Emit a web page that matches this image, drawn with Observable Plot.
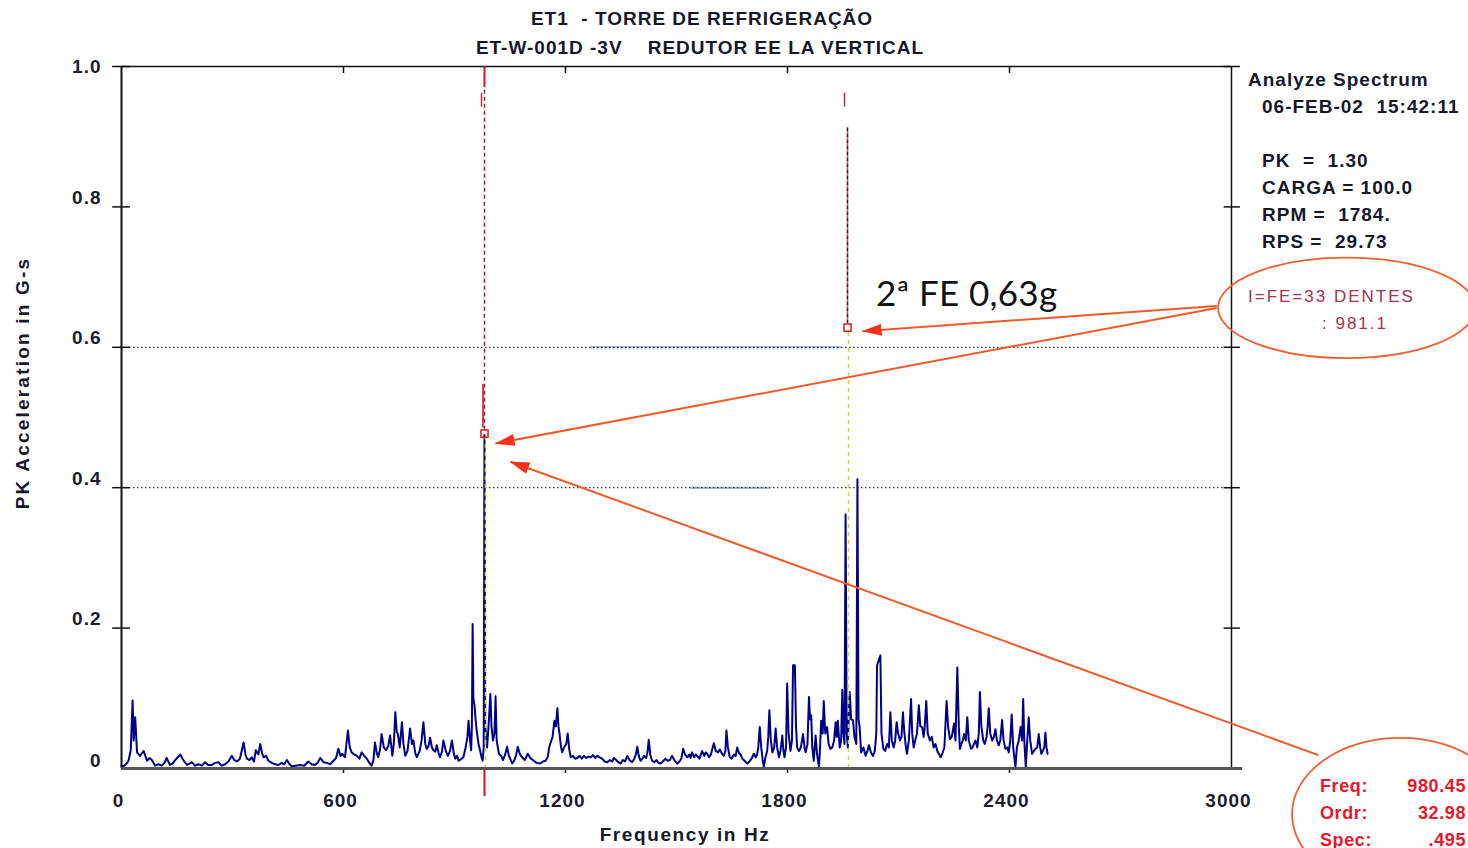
<!DOCTYPE html>
<html><head><meta charset="utf-8">
<script src="https://cdn.jsdelivr.net/npm/d3@7"></script>
<script src="https://cdn.jsdelivr.net/npm/@observablehq/plot@0.6"></script>
<style>
body{margin:0;background:#fff;}
#wrap{position:relative;width:1468px;height:848px;overflow:hidden;font-family:"Liberation Sans",Arial,sans-serif;}
#wrap svg{position:absolute;left:0;top:0;}
.t{position:absolute;white-space:pre;font-weight:bold;color:#17172a;font-size:19px;line-height:19px;letter-spacing:1px;transform:translateY(-50%);}
.c{transform:translate(-50%,-50%);}
.ax{letter-spacing:1.6px;}
.red{color:#e8182a;font-size:18px;letter-spacing:0.6px;}
.pink{color:#a3344c;font-weight:normal;font-size:17px;letter-spacing:2px;}
</style></head><body><div id="wrap"></div>
<script>
// ---- data ----
const titleLines = ["ET1  - TORRE DE REFRIGERAÇÃO", "ET-W-001D -3V    REDUTOR EE LA VERTICAL"];
const xTicks = [0, 600, 1200, 1800, 2400, 3000];
const yTicks = [0, 0.2, 0.4, 0.6, 0.8, 1.0];
const gridLevels = [0.4, 0.6];
const harmonicHz = [981.1, 1962.2];
const harmonicMarkG = [0.477, 0.628];
const panelLines = ["Analyze Spectrum", "06-FEB-02  15:42:11", "PK  =  1.30", "CARGA = 100.0", "RPM =  1784.", "RPS =  29.73"];
const cursorLabels = ["Freq:", "Ordr:", "Spec:"];
const cursorValues = ["980.45", "32.98", ".495"];
const calloutText = ["I=FE=33 DENTES", ": 981.1"];
const noteText = "2ª FE 0,63g";
// spectrum: [frequency Hz, PK acceleration G-s]
const spectrum = [
[0,.004],[5,.003],[12,.006],[19,.011],[25,.026],[30,.097],[33,.04],[37,.073],[42,.023],[50,.018],[60,.025],[69,.011],[76,.015],[82,.012],[91,.004],[100,.006],[109,.004],[116,.008],[122,.015],[131,.005],[138,.007],[145,.012],[152,.016],[159,.02],[165,.014],[171,.009],[177,.005],[184,.007],[190,.009],[199,.004],[208,.006],[217,.004],[226,.009],[235,.005],[244,.005],[253,.008],[262,.009],[271,.004],[280,.006],[289,.01],[298,.018],[305,.012],[312,.01],[320,.014],[330,.037],[335,.02],[339,.014],[346,.012],[352,.016],[358,.01],[363,.026],[370,.02],[375,.035],[380,.022],[384,.016],[391,.018],[397,.011],[406,.008],[415,.006],[424,.005],[433,.008],[440,.006],[447,.012],[453,.007],[460,.003],[470,.004],[483,.005],[494,.004],[505,.01],[514,.006],[523,.005],[530,.008],[537,.015],[546,.009],[555,.008],[564,.006],[573,.011],[580,.015],[586,.028],[592,.018],[597,.021],[604,.016],[612,.054],[617,.03],[622,.023],[629,.02],[636,.018],[643,.014],[649,.023],[656,.018],[663,.014],[670,.008],[676,.004],[681,.012],[685,.037],[690,.022],[694,.016],[699,.028],[703,.049],[709,.03],[715,.026],[721,.032],[726,.047],[732,.018],[736,.035],[740,.08],[744,.052],[747,.049],[752,.03],[758,.066],[762,.035],[767,.018],[773,.025],[780,.057],[785,.035],[789,.04],[794,.022],[798,.016],[806,.025],[811,.04],[816,.066],[821,.035],[825,.028],[830,.032],[834,.044],[839,.03],[843,.026],[848,.024],[852,.033],[857,.022],[861,.016],[866,.024],[870,.04],[876,.026],[882,.018],[888,.025],[893,.04],[898,.022],[902,.014],[907,.018],[911,.011],[917,.013],[924,.016],[930,.03],[935,.045],[938,.068],[942,.04],[945,.026],[947,.06],[949,.206],[951,.1],[954,.09],[957,.07],[960,.054],[965,.035],[969,.026],[973,.016],[976,.011],[979,.03],[981,.475],[983,.06],[986,.045],[988,.03],[992,.06],[997,.106],[1000,.06],[1004,.04],[1008,.05],[1011,.103],[1014,.04],[1020,.021],[1026,.018],[1031,.012],[1037,.02],[1042,.031],[1047,.018],[1052,.012],[1056,.007],[1062,.012],[1067,.02],[1071,.031],[1077,.02],[1083,.016],[1090,.012],[1098,.021],[1105,.015],[1114,.011],[1122,.008],[1132,.007],[1139,.01],[1146,.011],[1152,.016],[1156,.03],[1160,.037],[1165,.045],[1170,.068],[1174,.06],[1178,.086],[1181,.06],[1184,.049],[1188,.03],[1191,.023],[1196,.03],[1202,.035],[1206,.05],[1210,.028],[1214,.016],[1220,.018],[1226,.014],[1232,.015],[1238,.018],[1244,.014],[1250,.018],[1256,.015],[1262,.017],[1268,.016],[1274,.019],[1280,.015],[1286,.018],[1292,.016],[1299,.014],[1306,.01],[1313,.009],[1320,.012],[1326,.01],[1331,.015],[1337,.012],[1343,.009],[1349,.007],[1355,.012],[1361,.01],[1367,.018],[1373,.012],[1380,.009],[1386,.014],[1390,.02],[1394,.031],[1398,.018],[1403,.011],[1408,.014],[1412,.018],[1418,.015],[1422,.025],[1425,.041],[1429,.02],[1434,.011],[1440,.009],[1446,.012],[1451,.008],[1457,.007],[1463,.01],[1470,.014],[1476,.011],[1482,.012],[1488,.018],[1494,.012],[1502,.007],[1508,.01],[1513,.014],[1518,.028],[1523,.02],[1529,.016],[1535,.02],[1538,.015],[1542,.023],[1548,.016],[1552,.02],[1556,.018],[1562,.014],[1566,.02],[1569,.025],[1575,.018],[1579,.023],[1583,.021],[1588,.016],[1593,.02],[1597,.028],[1601,.036],[1606,.025],[1612,.023],[1617,.027],[1623,.021],[1628,.018],[1632,.025],[1635,.054],[1639,.03],[1644,.016],[1649,.014],[1655,.02],[1660,.018],[1664,.03],[1669,.022],[1673,.02],[1678,.014],[1684,.011],[1691,.007],[1697,.01],[1703,.014],[1709,.021],[1714,.016],[1718,.02],[1721,.03],[1725,.059],[1729,.03],[1733,.012],[1736,.002],[1740,.015],[1745,.025],[1748,.045],[1751,.083],[1755,.04],[1759,.023],[1764,.03],[1768,.057],[1772,.03],[1777,.016],[1781,.025],[1786,.047],[1789,.025],[1792,.016],[1796,.03],[1799,.121],[1803,.05],[1808,.025],[1812,.04],[1815,.147],[1820,.147],[1823,.06],[1826,.03],[1831,.025],[1836,.03],[1842,.049],[1846,.03],[1849,.023],[1854,.035],[1858,.102],[1861,.07],[1864,.076],[1867,.03],[1871,.011],[1876,.047],[1880,.02],[1885,.002],[1888,.03],[1891,.068],[1895,.05],[1898,.096],[1902,.05],[1907,.059],[1911,.035],[1916,.028],[1921,.03],[1926,.04],[1930,.066],[1933,.045],[1936,.068],[1941,.03],[1945,.04],[1948,.112],[1951,.05],[1954,.035],[1957,.362],[1960,.05],[1963,.03],[1966,.08],[1968,.109],[1972,.07],[1977,.069],[1981,.045],[1986,.035],[1989,.412],[1992,.07],[1995,.059],[1999,.023],[2005,.03],[2011,.018],[2016,.025],[2020,.033],[2026,.022],[2031,.018],[2036,.025],[2040,.05],[2042,.147],[2047,.155],[2051,.161],[2054,.05],[2059,.028],[2064,.025],[2069,.035],[2074,.03],[2078,.08],[2082,.04],[2087,.03],[2091,.04],[2095,.066],[2099,.05],[2104,.04],[2108,.045],[2112,.08],[2116,.05],[2120,.03],[2123,.021],[2128,.04],[2134,.099],[2137,.05],[2141,.03],[2145,.04],[2150,.05],[2155,.09],[2159,.06],[2164,.059],[2168,.045],[2171,.06],[2175,.096],[2179,.05],[2185,.04],[2190,.045],[2195,.03],[2200,.035],[2205,.025],[2210,.02],[2214,.016],[2219,.022],[2224,.03],[2230,.096],[2234,.06],[2239,.042],[2244,.045],[2250,.064],[2254,.04],[2259,.144],[2263,.06],[2266,.028],[2270,.035],[2274,.04],[2277,.049],[2282,.04],[2286,.073],[2290,.04],[2296,.028],[2300,.03],[2304,.035],[2308,.04],[2313,.03],[2317,.05],[2320,.109],[2324,.06],[2329,.04],[2333,.035],[2338,.045],[2341,.06],[2344,.086],[2348,.05],[2353,.04],[2358,.045],[2362,.056],[2366,.04],[2371,.033],[2375,.04],[2380,.069],[2384,.04],[2389,.028],[2394,.03],[2398,.023],[2402,.04],[2406,.077],[2410,.03],[2416,.002],[2420,.03],[2425,.04],[2430,.059],[2434,.04],[2437,.099],[2440,.04],[2444,.002],[2448,.04],[2452,.073],[2456,.04],[2461,.021],[2466,.025],[2470,.028],[2475,.03],[2479,.049],[2483,.03],[2486,.021],[2490,.025],[2494,.03],[2497,.051],[2500,.03],[2503,.021]
];
// annotation arrows (data units): from -> to
const arrowFromHz = [2960, 2960, 3235];
const arrowFromG = [0.659, 0.656, 0.019];
const arrowToHz = [2003, 1011, 1051];
const arrowToG = [0.623, 0.463, 0.437];
// callout ellipses bounds (data units)
const ellipseHz = [[2965, 3660], [3165, 3750]];
const ellipseG = [[0.584, 0.727], [-0.175, 0.043]];
// faint blue segments on the grid lines
const gridTraceG = [0.6, 0.4];
const gridTraceHz = [[1268, 1946], [1538, 1754]];

// ---- chart ----
const arrows = arrowFromHz.map((x, i) => ({x1: x, y1: arrowFromG[i], x2: arrowToHz[i], y2: arrowToG[i]}));
const traces = gridTraceG.map((g, i) => ({y: g, x1: gridTraceHz[i][0], x2: gridTraceHz[i][1]}));
const harm = harmonicHz.map((f, i) => ({f, g: harmonicMarkG[i]}));

const plot = Plot.plot({
  width: 1468, height: 848,
  marginLeft: 121, marginRight: 237, marginTop: 66, marginBottom: 80,
  x: {domain: [0, 3000], label: null},
  y: {domain: [0, 1], label: null},
  style: {fontFamily: "'Liberation Sans', Arial, sans-serif", fontSize: "19px", fontWeight: "bold", letterSpacing: "1px", color: "#1c1c2c", background: "transparent", overflow: "visible"},
  marks: [
    Plot.ruleY(traces, {y: "y", x1: "x1", x2: "x2", stroke: "#9fb0cc", strokeWidth: 2.5, strokeOpacity: 0.8}),
    Plot.ruleY(gridLevels, {x1: 0, x2: 3000, stroke: "#333", strokeDasharray: "1.5,2.5", strokeWidth: 1.2}),
    Plot.axisY(yTicks.filter(d => d === 1), {tickSize: 0, tickPadding: 20, tickFormat: d => d.toFixed(1), label: null}),
    Plot.axisY(yTicks.filter(d => d > 0 && d < 1), {tickSize: 0, tickPadding: 20, dy: -9, tickFormat: d => d.toFixed(1), label: null}),
    Plot.axisY(yTicks.filter(d => d === 0), {tickSize: 0, tickPadding: 20, dy: -8, tickFormat: d => String(d), label: null}),
    Plot.axisX(xTicks, {tickSize: 0, tickPadding: 25, dx: -3, tickFormat: d => String(d), label: null}),
    // frame
    Plot.ruleX([0], {y1: 0, y2: 1, stroke: "#111", strokeWidth: 2}),
    Plot.ruleX([3000], {y1: 0, y2: 1, stroke: "#111", strokeWidth: 1.5}),
    Plot.ruleY([1], {x1: 0, x2: 3000, stroke: "#111", strokeWidth: 1.5}),
    Plot.ruleY(yTicks.filter(d => d > 0), {x1: -24, x2: 24, stroke: "#111", strokeWidth: 1.5}),
    Plot.ruleY(yTicks.filter(d => d > 0), {x1: 2980, x2: 3024, stroke: "#111", strokeWidth: 1.5}),
    Plot.ruleX(xTicks.filter(d => d > 0 && d < 3000), {y1: 0.99, y2: 1, stroke: "#111", strokeWidth: 1.5}),
    Plot.ruleX(xTicks.filter(d => d > 0 && d < 3000), {y1: -0.007, y2: 0, stroke: "#111", strokeWidth: 1.5}),
    // harmonic cursor lines
    Plot.ruleX(harm.slice(0, 1), {x: "f", y1: d => d.g + 0.005, y2: 0.97, stroke: "#8b1a2a", strokeWidth: 1.4, strokeDasharray: "4,3"}),
    Plot.ruleX(harm.slice(0, 1), {x: "f", y1: 0.97, y2: 1, stroke: "#e0101a", strokeWidth: 2}),
    Plot.ruleX(harm.slice(0, 1), {x: "f", y1: -0.04, y2: 0, stroke: "#e0101a", strokeWidth: 2}),
    Plot.ruleX(harm.slice(0, 1), {x: "f", y1: d => d.g + 0.008, y2: d => d.g + 0.07, dx: -1.5, stroke: "#e0101a", strokeWidth: 1.6}),
    Plot.ruleX(harm.slice(1), {x: "f", y1: d => d.g + 0.006, y2: 0.913, stroke: "#222", strokeWidth: 1.6, strokeDasharray: "3,3"}),
    Plot.ruleX(harm.slice(1), {x: "f", y1: d => d.g + 0.006, y2: 0.913, stroke: "#d05050", strokeWidth: 1.6, strokeDasharray: "3,3", strokeDashoffset: 3}),
    Plot.ruleX(harm, {x: "f", y1: 0.942, y2: 0.962, dx: -3, stroke: "#b03048", strokeWidth: 1.5}),
    // spectrum
    Plot.line(spectrum, {x: d => d[0], y: d => d[1], stroke: "#00008b", strokeWidth: 2}),
    Plot.ruleX(harm, {x: "f", y1: 0, y2: d => d.g - 0.005, dx: 1, stroke: "#c8e030", strokeWidth: 1.6, strokeDasharray: "4,4"}),
    Plot.ruleY([0], {x1: 0, x2: 3030, stroke: "#555", strokeWidth: 3}),
    Plot.dot(harm, {x: "f", y: "g", symbol: "square", r: 4, stroke: "#e01818", fill: "none", strokeWidth: 1.5}),
    // annotation arrows
    Plot.link(arrows, {x1: "x1", y1: "y1", x2: "x2", y2: "y2", stroke: "#f25a2a", strokeWidth: 2})
  ]
});

const svg = d3.select(plot);
const defs = svg.append("defs");
defs.append("marker").attr("id", "tri").attr("viewBox", "0 0 20 12")
  .attr("markerUnits", "userSpaceOnUse").attr("markerWidth", 20).attr("markerHeight", 12)
  .attr("refX", 19).attr("refY", 6).attr("orient", "auto")
  .append("path").attr("d", "M0,0L20,6L0,12Z").attr("fill", "#f4321a");
svg.selectAll('g[aria-label="link"] path').attr("marker-end", "url(#tri)");
const sx = plot.scale("x"), sy = plot.scale("y");
ellipseHz.forEach((xs, i) => {
  const x0 = sx.apply(xs[0]), x1 = sx.apply(xs[1]);
  const y0 = sy.apply(ellipseG[i][1]), y1 = sy.apply(ellipseG[i][0]);
  svg.append("ellipse").attr("cx", (x0 + x1) / 2).attr("cy", (y0 + y1) / 2)
    .attr("rx", (x1 - x0) / 2).attr("ry", (y1 - y0) / 2)
    .attr("fill", "none").attr("stroke", "#f0602f").attr("stroke-width", 1.8);
});

const wrap = document.getElementById("wrap");
wrap.appendChild(plot);
function addText(txt, cls, left, top, extra) {
  const d = document.createElement("div");
  d.className = "t " + cls; d.textContent = txt;
  d.style.left = left + "px"; d.style.top = top + "px";
  if (extra) Object.assign(d.style, extra);
  wrap.appendChild(d);
}
addText(titleLines[0], "c", 702, 18);
addText(titleLines[1], "c", 700, 47);
addText("Frequency in Hz", "c ax", 685, 834);
addText("PK Acceleration in G-s", "ax", 22, 383, {transform: "translate(-50%,-50%) rotate(-90deg)", letterSpacing: "2.2px"});
const panelX = [1248, 1262, 1262, 1262, 1262, 1262];
const panelY = [79, 106, 160, 187, 214, 241];
panelLines.forEach((s, i) => addText(s, "", panelX[i], panelY[i]));
addText(calloutText[0], "pink", 1248, 296);
addText(calloutText[1], "pink", 1322, 323);
cursorLabels.forEach((s, i) => addText(s, "red", 1320, 786 + 27 * i));
cursorValues.forEach((s, i) => addText(s, "red", 0, 786 + 27 * i, {left: "auto", right: "2px"}));
addText(noteText, "", 876, 292, {fontFamily: "Lato, 'Open Sans', sans-serif", fontWeight: "normal", fontSize: "35px", lineHeight: "35px", letterSpacing: "0.3px", color: "#111"});
</script></body></html>
